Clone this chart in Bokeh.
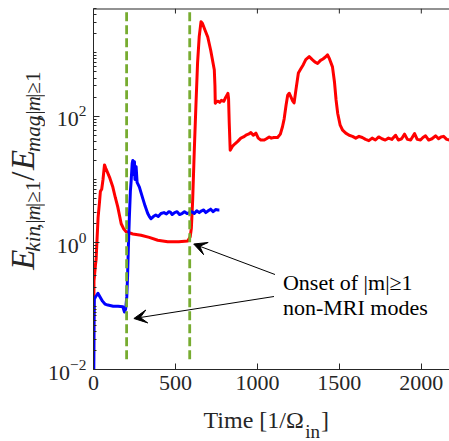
import numpy as np
from bokeh.plotting import figure
from bokeh.layouts import column, row
from bokeh.models import Range1d, FixedTicker, Label, Arrow, VeeHead, Span
from bokeh.embed import file_html
from bokeh.resources import INLINE

# ---------------- data ----------------
red_t = [0, 3, 6, 12, 16, 22, 28, 37, 42, 50, 58, 67, 75, 88, 100, 118, 133, 148,
         160, 169, 185, 199, 240, 290, 340, 392, 453, 520, 575, 590, 597, 605, 615,
         625, 635, 645, 656, 665, 680, 697, 715, 737, 741, 743, 750, 760, 770, 780,
         795, 805, 815, 820, 824, 828, 834, 850, 865, 880, 899, 915, 930, 945, 960,
         975, 991, 1005, 1021, 1042, 1055, 1072, 1085, 1100, 1123, 1140, 1153, 1163,
         1175, 1185, 1194, 1205, 1215, 1224, 1235, 1250, 1265, 1280, 1295, 1316,
         1335, 1350, 1367, 1385, 1400, 1415, 1428, 1440, 1458, 1470, 1480, 1490,
         1505, 1520, 1539, 1560, 1580, 1600, 1620, 1640, 1660, 1680, 1700, 1720,
         1740, 1760, 1780, 1800, 1820, 1843, 1860, 1880, 1898, 1915, 1935, 1959,
         1975, 1995, 2010, 2026, 2045, 2065, 2087, 2105, 2120, 2136, 2155, 2172]
red_v = [0.01, 0.25, 0.3, 0.45, 0.55, 1.2, 2.5, 4.5, 6.5, 7.0, 10, 17, 15, 12.5,
         10.5, 7.6, 5.2, 3.7, 2.6, 2.0, 1.65, 1.5, 1.38, 1.32, 1.22, 1.1, 1.04,
         1.04, 1.07, 1.25, 1.7, 4.7, 29, 150, 700, 1800, 3100, 2900, 2300, 1780,
         1100, 540, 300, 160, 168, 172, 165, 178, 172, 195, 215, 230, 190, 80, 29,
         34, 37, 40, 45, 47, 50, 52, 55, 50, 54, 45, 42, 42, 44, 47, 45, 46, 46,
         52, 68, 90, 150, 215, 230, 200, 175, 162, 260, 480, 560, 650, 780, 870,
         780, 720, 680, 760, 800, 860, 930, 800, 600, 350, 180, 110, 72, 60, 54,
         50, 48, 45, 48, 46, 43, 41, 45, 42, 47, 44, 42, 45, 43, 50, 42, 44, 52,
         43, 42, 53, 43, 42, 46, 49, 42, 44, 49, 44, 47, 48, 43, 42]

blue_t = [2, 3, 5, 12, 20, 27, 40, 55, 70, 88, 120, 150, 179, 189, 196, 203, 208,
          213, 219, 225, 230, 236, 240, 243, 246, 250, 253, 256, 260, 266, 280,
          290, 301, 315, 331, 341, 351, 365, 380, 395, 412, 430, 445, 460, 469,
          480, 495, 510, 525, 540, 555, 571, 585, 600, 615, 630, 645, 660, 672,
          685, 700, 715, 730, 745, 760, 768]
blue_v = [0.01, 0.05, 0.13, 0.14, 0.15, 0.16, 0.14, 0.12, 0.108, 0.104, 0.1,
          0.1, 0.098, 0.081, 0.09, 0.14, 0.3, 0.9, 2.6, 6.5, 9.8, 18, 20, 12,
          16, 19, 10, 15, 16, 9, 7.6, 6.2, 5.0, 3.8, 2.9, 2.6, 2.4, 2.6, 2.75,
          2.6, 2.9, 3.0, 2.85, 3.1, 3.05, 2.8, 3.0, 3.1, 2.8, 2.9, 3.1, 2.9, 3.0,
          3.1, 2.9, 3.2, 3.0, 3.2, 3.3, 3.0, 3.2, 3.4, 3.1, 3.35, 3.3, 3.3]

onset_t = [202, 587]
onset_y = [0.0145, 4700]

x_ticks = [0, 500, 1000, 1500, 2000]
y_ticks = [1e-2, 1e0, 1e2]

annotation_lines = ["Onset of |m|\u22651", "non-MRI modes"]

# ---------------- layout (page pixels) ----------------
PW, PH = 449, 441          # whole page
YLW = 45                   # width of the y-label strip
TOPH = 405                 # height of the upper row
FL, FR, FT, FB = 92, 449, 8, 369   # frame edges in page pixels
XMAX = 2172
YMIN, YMAX = 1e-2, 10 ** 3.7
AX = "#262626"
SERIF = "Liberation Serif"
BASE_FIX = 0.35            # Bokeh's alphabetic anchor sits this many em above the glyph baseline


def px2t(px):
    return (px - FL) / (FR - FL) * XMAX


def py2y(py):
    lo, hi = np.log10(YMIN), np.log10(YMAX)
    return 10 ** (hi - (py - FT) / (FB - FT) * (hi - lo))


p = figure(width=PW - YLW, height=TOPH, x_range=Range1d(0, XMAX),
           y_range=Range1d(YMIN, YMAX), y_axis_type="log", output_backend="svg",
           toolbar_location=None, min_border_left=FL - YLW, min_border_right=0,
           min_border_top=FT, min_border_bottom=TOPH - FB)
p.grid.visible = False
p.outline_line_color = None
p.background_fill_color = "white"
p.border_fill_color = "white"

p.line(red_t, red_v, line_color="#FF0000", line_width=3, line_join="round")
p.line(blue_t, blue_v, line_color="#0000FF", line_width=3, line_join="round")
p.multi_line(xs=[[t, t] for t in onset_t], ys=[onset_y for _ in onset_t],
             line_color="#77AC30", line_width=2.8, line_dash="9 4")

# axes
minor = [m * 10.0 ** k for k in range(-2, 4) for m in range(1, 10)
         if m * 10.0 ** k not in y_ticks and m * 10.0 ** k < YMAX]
p.yaxis.ticker = FixedTicker(ticks=y_ticks, minor_ticks=minor)
p.xaxis.ticker = FixedTicker(ticks=x_ticks, minor_ticks=[])
for ax in [p.xaxis[0], p.yaxis[0]]:
    ax.major_tick_in = 6
    ax.major_tick_out = 0
    ax.minor_tick_in = 3
    ax.minor_tick_out = 0
    ax.axis_line_color = AX
    ax.major_tick_line_color = AX
    ax.minor_tick_line_color = AX
    ax.major_label_text_font = SERIF
    ax.major_label_text_font_size = "22px"
    ax.major_label_text_color = AX
p.xaxis.minor_tick_line_color = None
p.yaxis.major_label_standoff = 7
p.xaxis.major_label_standoff = 6

# box top edge with inward ticks
p.add_layout(Span(location=YMAX, dimension="width", line_color=AX, line_width=2))
p.segment(x0=x_ticks, y0=[YMAX] * len(x_ticks), x1=x_ticks,
          y1=[py2y(FT + 5)] * len(x_ticks), line_color=AX, line_width=1)

# annotation
for i, line in enumerate(annotation_lines):
    p.add_layout(Label(x=px2t(282), y=py2y(290 + 25 * i - BASE_FIX * 22), text=line,
                       text_align="left", text_baseline="alphabetic", text_font=SERIF,
                       text_font_size="22px", text_color="black"))
for (sx, sy), (ex, ey) in [((274, 274), (192.5, 243.5)), ((273, 296), (132.5, 318))]:
    p.add_layout(Arrow(x_start=px2t(sx), y_start=py2y(sy), x_end=px2t(ex), y_end=py2y(ey),
                       line_color="black", line_width=1,
                       end=VeeHead(size=13, fill_color="black", line_color="black",
                                   line_width=1)))


# ---------------- label strips ----------------
def label_fig(w, h):
    f = figure(width=w, height=h, x_range=Range1d(0, w), y_range=Range1d(0, h),
               output_backend="svg", toolbar_location=None, min_border=0,
               x_axis_location=None, y_axis_location=None)
    f.grid.visible = False
    f.outline_line_color = None
    f.background_fill_color = "white"
    f.border_fill_color = "white"
    return f


CW = {"normal": {",": 250, "|": 200, "\u2265": 549, "1": 500, "/": 278, "T": 611,
                 "i": 278, "m": 778, "e": 444, " ": 250, "[": 333, "]": 333,
                 "\u03a9": 768, "n": 500},
      "italic": {"E": 611, "k": 444, "i": 278, "n": 500, "m": 722, "a": 500, "g": 500}}


def twidth(s, size, style):
    return sum(CW[style].get(c, 500) for c in s) / 1000.0 * size


# y label: E_{kin,|m|>=1} / E_{mag,|m|>=1}
ylab = label_fig(YLW, TOPH)
MAIN, SUB = 33, 21
ypieces = [("E", MAIN, "italic", 0, 0), ("kin", SUB, "italic", 1, 0),
           (",|", SUB, "normal", 1, 0), ("m", SUB, "italic", 1, 0),
           ("|\u22651", SUB, "normal", 1, 3), ("/", MAIN, "normal", 0, 3),
           ("E", MAIN, "italic", 0, 0), ("mag", SUB, "italic", 1, 0),
           (",|", SUB, "normal", 1, 0), ("m", SUB, "italic", 1, 0),
           ("|\u22651", SUB, "normal", 1, 0)]
cur = 293.0
for txt, size, style, sub, gap in ypieces:
    bx = (40 if sub else 34) - BASE_FIX * size
    ylab.add_layout(Label(x=bx, y=TOPH - cur, text=txt, angle=np.pi / 2,
                          text_align="left", text_baseline="alphabetic",
                          text_font=SERIF, text_font_style=style,
                          text_font_size=f"{size}px", text_color=AX))
    cur -= twidth(txt, size, style) + gap

# x label: Time [1/Omega_in]
XLH = PH - TOPH
xlab = label_fig(PW, XLH)
xpieces = [("Time [1/\u03a9", 24, 0), ("in", 19, 1), ("]", 24, 0)]
cur = 203.0
for txt, size, sub in xpieces:
    by = (438 if sub else 428) - BASE_FIX * size
    xlab.add_layout(Label(x=cur, y=PH - by, text=txt, text_align="left",
                          text_baseline="alphabetic", text_font=SERIF,
                          text_font_size=f"{size}px", text_color=AX))
    cur += twidth(txt, size, "normal") + (1 if sub else 0)

layout = column(row(ylab, p), xlab)
open("out.html", "w").write(file_html(layout, INLINE))
